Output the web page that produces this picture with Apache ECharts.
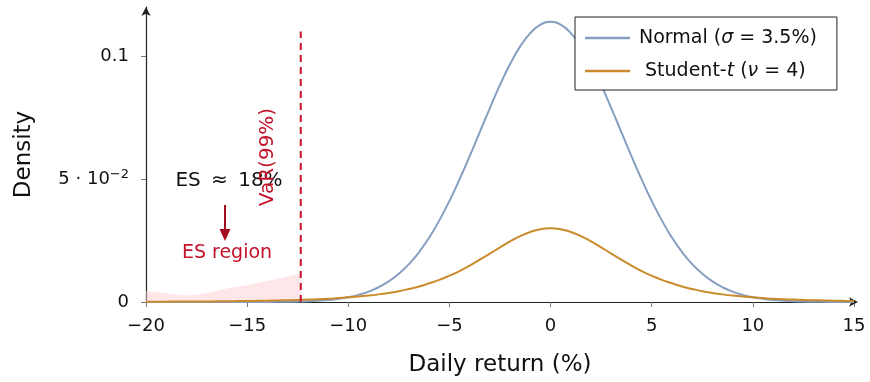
<!DOCTYPE html>
<html><head><meta charset="utf-8">
<script src="https://cdn.jsdelivr.net/npm/echarts@6/dist/echarts.min.js"></script>
<style>html,body{margin:0;padding:0;background:#fff}#c{width:870px;height:382px}</style>
</head><body><div id="c"></div>
<script>
// x positions (daily return, %), step 0.5
const xs = [-20,-19.5,-19,-18.5,-18,-17.5,-17,-16.5,-16,-15.5,-15,-14.5,-14,-13.5,-13,-12.5,-12,-11.5,-11,-10.5,-10,-9.5,-9,-8.5,-8,-7.5,-7,-6.5,-6,-5.5,-5,-4.5,-4,-3.5,-3,-2.5,-2,-1.5,-1,-0.5,0,0.5,1,1.5,2,2.5,3,3.5,4,4.5,5,5.5,6,6.5,7,7.5,8,8.5,9,9.5,10,10.5,11,11.5,12,12.5,13,13.5,14,14.5,15];
// Normal (sigma = 3.5%) density
const normalVals = [0,0,0,0,0,0,0,0,0,0,0,0,0,0.0001,0.0001,0.0002,0.0003,0.0005,0.0008,0.0013,0.0019,0.0029,0.0042,0.0060,0.0084,0.0115,0.0154,0.0203,0.0262,0.0332,0.0411,0.0499,0.0593,0.0691,0.0789,0.0883,0.0968,0.1040,0.1094,0.1128,0.1140,0.1128,0.1094,0.1040,0.0968,0.0883,0.0789,0.0691,0.0593,0.0499,0.0411,0.0332,0.0262,0.0203,0.0154,0.0115,0.0084,0.0060,0.0042,0.0029,0.0019,0.0013,0.0008,0.0005,0.0003,0.0002,0.0001,0.0001,0,0,0];
// Student-t (nu = 4) density
const studentVals = [0.00012,0.00013,0.00015,0.00017,0.00019,0.00021,0.00024,0.00027,0.00031,0.00036,0.00041,0.00047,0.00054,0.00062,0.00072,0.00083,0.0010,0.0011,0.0013,0.0016,0.0019,0.0022,0.0026,0.0031,0.0037,0.0044,0.0053,0.0063,0.0076,0.0090,0.0107,0.0126,0.0148,0.0172,0.0197,0.0222,0.0247,0.0268,0.0285,0.0296,0.0300,0.0296,0.0285,0.0268,0.0247,0.0222,0.0197,0.0172,0.0148,0.0126,0.0107,0.0090,0.0076,0.0063,0.0053,0.0044,0.0037,0.0031,0.0026,0.0022,0.0019,0.0016,0.0013,0.0011,0.0010,0.00083,0.00072,0.00062,0.00054,0.00047,0.00041];
// ES shaded region
const esX = [-20,-19,-18,-17,-16,-15,-14,-13,-12.35];
const esVals = [0.0045,0.0036,0.0027,0.0036,0.0055,0.0068,0.0085,0.0104,0.0117];
// VaR line
const varX = -12.35;
const varTop = 0.11;
const yTicks = [0,0.05,0.1];
const yTickLabels = ['0','5 · 10{sup|−2}','0.1'];

const FONT = '"DejaVu Sans"';
const zip = (a,b)=>a.map((v,i)=>[v,b[i]]);

const chart = echarts.init(document.getElementById('c'));
chart.setOption({
  animation:false,
  textStyle:{fontFamily:FONT},
  grid:{left:146,right:16,top:7,bottom:80,containLabel:false},
  legend:{
    left:575, top:17, orient:'vertical',
    backgroundColor:'#fff', borderColor:'#222', borderWidth:1, borderRadius:0,
    padding:[10,20,8,10], itemGap:11, itemWidth:45, itemHeight:2.5, icon:'rect',
    data:['Normal','Student'],
    textStyle:{fontFamily:FONT,fontSize:19,color:'#111',padding:[0,0,0,4],lineHeight:22,
      rich:{i:{fontFamily:FONT,fontSize:19,fontStyle:'italic',color:'#111',lineHeight:22},
            n:{fontFamily:FONT,fontSize:19,color:'#111',lineHeight:22}}},
    formatter:function(n){
      return n==='Normal' ? '{n|Normal (}{i|σ}{n| = 3.5%)}' : '{n| Student-}{i|t}{n| (}{i|ν}{n| = 4)}';
    }
  },
  xAxis:{
    type:'value', min:-20, max:15, interval:5,
    name:'Daily return (%)', nameLocation:'middle', nameGap:52,
    nameTextStyle:{fontFamily:FONT,fontSize:23,color:'#111'},
    axisLine:{onZero:true,lineStyle:{color:'#222',width:1.2},symbol:['none','arrow'],symbolSize:[7,9],symbolOffset:[0,4]},
    axisTick:{show:true,length:5,lineStyle:{color:'#777'}},
    splitLine:{show:false},
    axisLabel:{fontFamily:FONT,fontSize:18,color:'#111',margin:15,
      formatter:v=> v<0 ? '−'+Math.abs(v) : String(v)}
  },
  yAxis:{
    type:'value', min:0, max:0.12,
    name:'Density', nameLocation:'middle', nameGap:110, nameRotate:90,
    nameTextStyle:{fontFamily:FONT,fontSize:23,color:'#111'},
    axisLine:{show:true,onZero:false,lineStyle:{color:'#222',width:1.2},symbol:['none','arrow'],symbolSize:[7,9]},
    axisTick:{show:true,length:5,lineStyle:{color:'#777'},customValues:yTicks},
    splitLine:{show:false},
    axisLabel:{fontFamily:FONT,fontSize:18,color:'#111',margin:17,customValues:yTicks,
      formatter:v=>{const i=yTicks.findIndex(t=>Math.abs(t-v)<1e-9);return i>=0?yTickLabels[i]:'';},
      rich:{sup:{fontFamily:FONT,fontSize:13,color:'#111',verticalAlign:'bottom',padding:[0,0,9,0]}}}
  },
  series:[
    {name:'ES', type:'line', data:zip(esX,esVals), symbol:'none', smooth:0.3,
     lineStyle:{width:0}, areaStyle:{color:'rgba(252,205,210,0.7)',origin:'start'}, z:1, silent:true},
    {name:'Normal', type:'line', data:zip(xs,normalVals), symbol:'none', smooth:true,
     lineStyle:{color:'#869fc0',width:2}, itemStyle:{color:'#869fc0'}, z:3},
    {name:'Student', type:'line', data:zip(xs,studentVals), symbol:'none', smooth:true,
     lineStyle:{color:'#c98b2c',width:2}, itemStyle:{color:'#c98b2c'}, z:4},
    {name:'VaR', type:'line', data:[[varX,0],[varX,varTop]], symbol:'none',
     lineStyle:{color:'#c4122a',width:2,type:[7,5]}, z:5, silent:true}
  ],
  graphic:[
    {type:'text', x:229, y:181, style:{text:'ES \u2009≈\u2009 18%', font:'20px '+FONT, fill:'#111', align:'center', verticalAlign:'middle'}, z:10},
    {type:'text', x:268, y:157, rotation:Math.PI/2, style:{text:'VaR(99%)', font:'20px '+FONT, fill:'#c4122a', align:'center', verticalAlign:'middle'}, z:11},
    {type:'line', shape:{x1:225,y1:205,x2:225,y2:232}, style:{stroke:'#a50d1e',lineWidth:2}, z:10},
    {type:'polygon', shape:{points:[[219.5,229],[230.5,229],[225,241]]}, style:{fill:'#a50d1e'}, z:10},
    {type:'text', x:227, y:253, style:{text:'ES region', font:'19px '+FONT, fill:'#c4122a', align:'center', verticalAlign:'middle'}, z:10}
  ]
});
</script></body></html>
